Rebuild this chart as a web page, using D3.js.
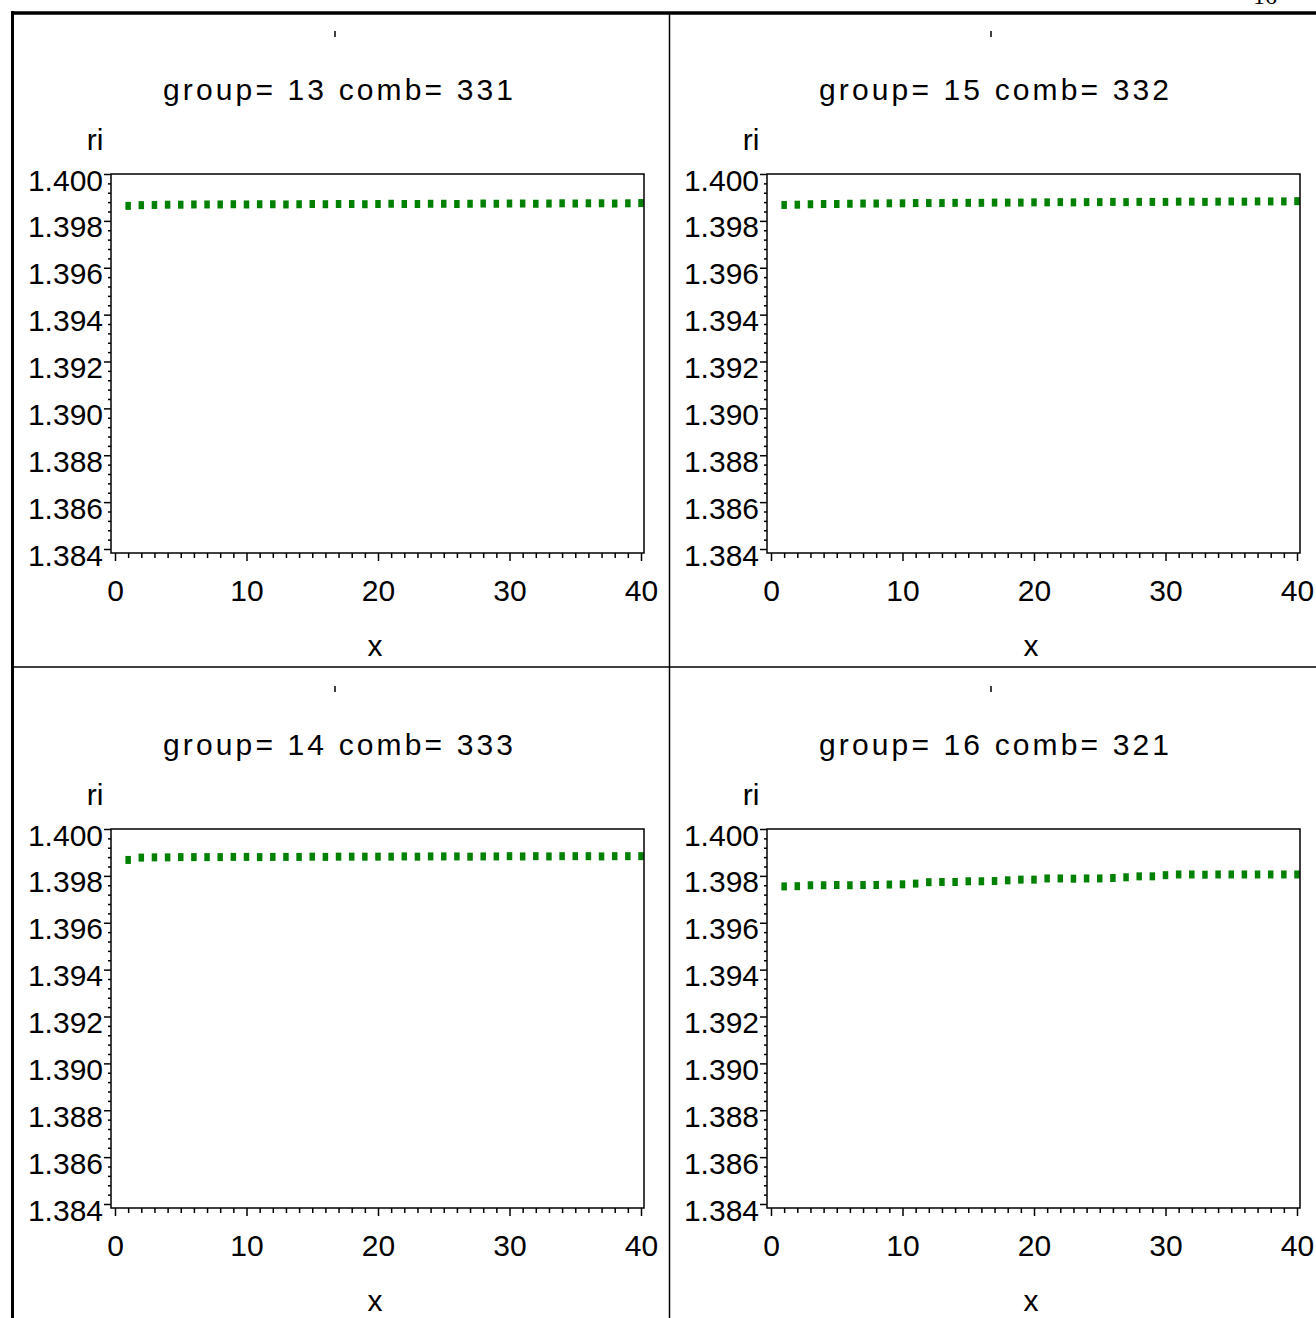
<!DOCTYPE html>
<html>
<head>
<meta charset="utf-8">
<script src="https://cdn.jsdelivr.net/npm/d3@7"></script>
<style>
    body { margin: 0; background: #fff; }
    text { font-family: "Liberation Sans", Arial, sans-serif; fill: #000; }
</style>
</head>
<body>
<div id="chart"></div>
<script>
const groups = [13, 15, 14, 16];
const combs = [331, 332, 333, 321];
const xs = [1, 2, 3, 4, 5, 6, 7, 8, 9, 10, 11, 12, 13, 14, 15, 16, 17, 18, 19, 20,
            21, 22, 23, 24, 25, 26, 27, 28, 29, 30, 31, 32, 33, 34, 35, 36, 37, 38, 39, 40];

const ri13 = [1.39864, 1.39867, 1.39868, 1.39869, 1.39869, 1.39870, 1.39870, 1.39870, 1.39871, 1.39870,
              1.39871, 1.39871, 1.39870, 1.39871, 1.39872, 1.39871, 1.39872, 1.39872, 1.39871, 1.39872,
              1.39873, 1.39872, 1.39872, 1.39873, 1.39873, 1.39872, 1.39873, 1.39874, 1.39873, 1.39874,
              1.39874, 1.39873, 1.39874, 1.39875, 1.39874, 1.39875, 1.39875, 1.39874, 1.39875, 1.39876];
const ri15 = [1.39868, 1.39869, 1.39871, 1.39872, 1.39872, 1.39873, 1.39874, 1.39874, 1.39875, 1.39875,
              1.39876, 1.39876, 1.39876, 1.39877, 1.39877, 1.39877, 1.39878, 1.39878, 1.39878, 1.39879,
              1.39879, 1.39880, 1.39879, 1.39880, 1.39880, 1.39881, 1.39880, 1.39881, 1.39881, 1.39881,
              1.39882, 1.39882, 1.39881, 1.39882, 1.39883, 1.39882, 1.39883, 1.39883, 1.39883, 1.39884];
const ri14 = [1.39868, 1.39878, 1.39879, 1.39879, 1.39880, 1.39880, 1.39880, 1.39880, 1.39881, 1.39881,
              1.39880, 1.39881, 1.39881, 1.39881, 1.39882, 1.39881, 1.39882, 1.39882, 1.39882, 1.39882,
              1.39882, 1.39883, 1.39882, 1.39883, 1.39883, 1.39883, 1.39882, 1.39883, 1.39883, 1.39884,
              1.39883, 1.39884, 1.39883, 1.39884, 1.39884, 1.39884, 1.39883, 1.39884, 1.39884, 1.39884];
const ri16 = [1.39755, 1.39756, 1.39760, 1.39760, 1.39761, 1.39760, 1.39761, 1.39761, 1.39763, 1.39764,
              1.39767, 1.39773, 1.39774, 1.39774, 1.39777, 1.39777, 1.39778, 1.39781, 1.39784, 1.39784,
              1.39789, 1.39789, 1.39788, 1.39789, 1.39789, 1.39791, 1.39794, 1.39798, 1.39798, 1.39803,
              1.39806, 1.39806, 1.39805, 1.39806, 1.39806, 1.39806, 1.39806, 1.39806, 1.39806, 1.39806];

const yTicks = [1.384, 1.386, 1.388, 1.390, 1.392, 1.394, 1.396, 1.398, 1.400];
const xTicks = [0, 10, 20, 30, 40];
const pageNumber = '16';

const W = 1316, H = 1318;
const svg = d3.select('#chart').append('svg')
    .attr('width', W)
    .attr('height', H);

svg.append('rect').attr('width', W).attr('height', H).attr('fill', '#fff');

// page number, mostly cut off at the top edge
svg.append('text')
    .attr('x', 1265)
    .attr('y', 4)
    .attr('text-anchor', 'middle')
    .style('font-family', '"Liberation Serif", "Times New Roman", serif')
    .style('font-size', '24px')
    .text(pageNumber);

// outer page border and the grid dividers
svg.append('line').attr('x1', 11).attr('x2', W).attr('y1', 13).attr('y2', 13)
    .attr('stroke', '#000').attr('stroke-width', 3.5);
svg.append('line').attr('x1', 12.5).attr('x2', 12.5).attr('y1', 11).attr('y2', H)
    .attr('stroke', '#000').attr('stroke-width', 3);
svg.append('line').attr('x1', 669.5).attr('x2', 669.5).attr('y1', 13).attr('y2', H)
    .attr('stroke', '#000').attr('stroke-width', 1.5);
svg.append('line').attr('x1', 13).attr('x2', W).attr('y1', 667).attr('y2', 667)
    .attr('stroke', '#000').attr('stroke-width', 1.5);

const panels = groups.map((g, i) => ({
    group: g,
    comb: combs[i],
    values: [ri13, ri15, ri14, ri16][i],
    col: i % 2,
    row: Math.floor(i / 2)
}));

function drawPanel(p, idx) {
    const g = svg.append('g')
        .attr('transform', `translate(${p.col * 656},${p.row * 655})`);

    const x = d3.scaleLinear().domain([0, 40]).range([115, 641]);
    const y = d3.scaleLinear().domain([1.384, 1.400]).range([549, 174]);

    const frame = {left: 111, right: 644, top: 174, bottom: 553};

    // small mark above the title
    g.append('line')
        .attr('x1', 335).attr('x2', 335).attr('y1', 31).attr('y2', 37)
        .attr('stroke', '#000').attr('stroke-width', 1.5);

    g.append('text')
        .attr('x', 338)
        .attr('y', 100)
        .attr('text-anchor', 'middle')
        .attr('textLength', 350)
        .attr('lengthAdjust', 'spacing')
        .style('font-size', '30px')
        .text(`group= ${p.group}  comb= ${p.comb}`);

    g.append('text')
        .attr('x', 95).attr('y', 150)
        .attr('text-anchor', 'middle')
        .style('font-size', '30px')
        .text('ri');

    g.append('text')
        .attr('x', 375).attr('y', 656)
        .attr('text-anchor', 'middle')
        .style('font-size', '30px')
        .text('x');

    // minor ticks
    const yMinor = [];
    for (let k = 0; k < yTicks.length - 1; k++) {
        const step = (yTicks[k + 1] - yTicks[k]) / 5;
        for (let m = 1; m < 5; m++) yMinor.push(yTicks[k] + step * m);
    }
    const xMinor = [];
    for (let v = 0; v <= 40; v++) if (v % 10 !== 0) xMinor.push(v);

    const yMinorAxis = g.append('g')
        .attr('transform', `translate(${frame.left},0)`)
        .call(d3.axisLeft(y).tickValues(yMinor).tickSize(3).tickFormat(''));
    const yAxis = g.append('g')
        .attr('transform', `translate(${frame.left},0)`)
        .call(d3.axisLeft(y).tickValues(yTicks).tickSize(7).tickFormat(d3.format('.3f')));
    yAxis.selectAll('text')
        .attr('x', -8)
        .attr('dy', null)
        .attr('y', 16);

    const xMinorAxis = g.append('g')
        .attr('transform', `translate(0,${frame.bottom})`)
        .call(d3.axisBottom(x).tickValues(xMinor).tickSize(5).tickFormat(''));
    const xAxis = g.append('g')
        .attr('transform', `translate(0,${frame.bottom})`)
        .call(d3.axisBottom(x).tickValues(xTicks).tickSize(8).tickFormat(d3.format('d')));
    xAxis.selectAll('text')
        .attr('dy', null)
        .attr('y', 48);

    [yMinorAxis, yAxis, xMinorAxis, xAxis].forEach(a => {
        a.select('.domain').remove();
        a.selectAll('line').attr('stroke', '#000').attr('stroke-width', 1.5);
        a.selectAll('text')
            .style('font-size', '30px')
            .style('font-family', '"Liberation Sans", Arial, sans-serif')
            .attr('fill', '#000');
    });

    // clip points to the plot frame
    const clipId = `clip-${idx}`;
    g.append('clipPath').attr('id', clipId)
        .append('rect')
        .attr('x', frame.left).attr('y', frame.top)
        .attr('width', frame.right - frame.left)
        .attr('height', frame.bottom - frame.top);

    g.append('g')
        .attr('clip-path', `url(#${clipId})`)
        .selectAll('rect')
        .data(p.values)
        .join('rect')
        .attr('x', (d, i) => x(xs[i]) - 2.75)
        .attr('y', d => y(d) - 4)
        .attr('width', 5.5)
        .attr('height', 8)
        .attr('fill', '#008000');

    g.append('rect')
        .attr('x', frame.left).attr('y', frame.top)
        .attr('width', frame.right - frame.left)
        .attr('height', frame.bottom - frame.top)
        .attr('fill', 'none')
        .attr('stroke', '#000')
        .attr('stroke-width', 1.5);
}

panels.forEach(drawPanel);
</script>
</body>
</html>
